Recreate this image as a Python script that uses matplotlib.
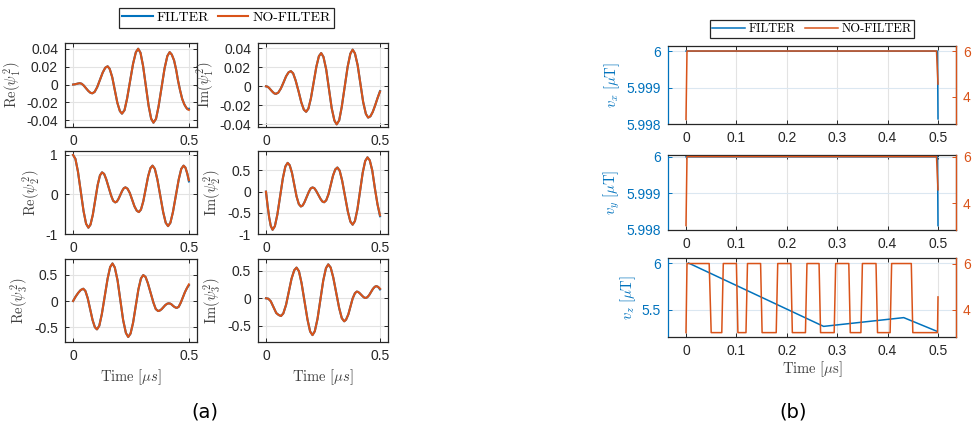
import matplotlib
matplotlib.use("Agg")
import matplotlib.pyplot as plt

plt.rcParams['font.family'] = ['Liberation Sans', 'DejaVu Sans']
plt.rcParams['mathtext.fontset'] = 'cm'
plt.rcParams['axes.unicode_minus'] = False

BLUE = '#0072BD'
ORANGE = '#D95319'
DARK = '#262626'

# ---- (a): time [us] / value pairs ----
re1_t = [0, 0.010, 0.020, 0.029, 0.037, 0.046, 0.056, 0.066, 0.075, 0.083, 0.093, 0.104,
         0.116, 0.128, 0.139, 0.149, 0.158, 0.169, 0.180, 0.191, 0.202, 0.211, 0.222, 0.233,
         0.246, 0.259, 0.271, 0.281, 0.291, 0.302, 0.314, 0.326, 0.337, 0.347, 0.358, 0.369,
         0.382, 0.395, 0.407, 0.417, 0.426, 0.436, 0.445, 0.453, 0.462, 0.471, 0.480, 0.488,
         0.494, 0.5]
re1_v = [0, 0.0004, 0.0011, 0.0015, 0.0009, -0.0011, -0.0042, -0.0072, -0.0092, -0.0098, -0.0082, -0.0029,
         0.0053, 0.0135, 0.0188, 0.0204, 0.0175, 0.0082, -0.0061, -0.0203, -0.0296, -0.0325, -0.0286, -0.0158,
         0.0038, 0.0233, 0.0361, 0.040, 0.0355, 0.021, -0.0013, -0.0236, -0.0381, -0.0426, -0.0383, -0.0245,
         -0.0032, 0.0181, 0.0319, 0.0362, 0.0335, 0.027, 0.0165, 0.0045, -0.0065, -0.016, -0.0220, -0.0256,
         -0.0275, -0.0283]

im1_t = [0, 0.007, 0.014, 0.022, 0.030, 0.037, 0.044, 0.054, 0.065, 0.077, 0.088, 0.099,
         0.109, 0.119, 0.130, 0.143, 0.155, 0.166, 0.176, 0.186, 0.197, 0.209, 0.221, 0.232,
         0.242, 0.252, 0.264, 0.276, 0.288, 0.300, 0.310, 0.321, 0.332, 0.345, 0.358, 0.370,
         0.380, 0.390, 0.402, 0.414, 0.426, 0.438, 0.448, 0.458, 0.468, 0.478, 0.489, 0.5]
im1_v = [0, -0.0004, -0.0018, -0.0040, -0.0061, -0.0075, -0.0079, -0.0066, -0.0024, 0.0041, 0.0105, 0.0147,
         0.016, 0.0137, 0.0062, -0.0054, -0.017, -0.0245, -0.0268, -0.0235, -0.0126, 0.0041, 0.0208, 0.0317,
         0.035, 0.031, 0.0178, -0.0025, -0.0228, -0.036, -0.040, -0.0358, -0.0219, -0.0007, 0.0205, 0.0344,
         0.0386, 0.0347, 0.0222, 0.0028, -0.0164, -0.029, -0.0329, -0.0315, -0.027, -0.0205, -0.0125, -0.0054]

re2_t = [0, 0.010, 0.021, 0.033, 0.045, 0.056, 0.066, 0.075, 0.085, 0.0955, 0.106, 0.116,
         0.125, 0.134, 0.143, 0.1535, 0.164, 0.173, 0.182, 0.189, 0.196, 0.204, 0.212, 0.219,
         0.226, 0.235, 0.245, 0.255, 0.265, 0.275, 0.284, 0.293, 0.303, 0.3135, 0.324, 0.334,
         0.343, 0.353, 0.364, 0.3765, 0.389, 0.400, 0.410, 0.420, 0.431, 0.4435, 0.456, 0.467,
         0.477, 0.485, 0.493, 0.5]
re2_v = [1.0, 0.90, 0.577, 0.08, -0.417, -0.74, -0.84, -0.764, -0.518, -0.14, 0.238, 0.484,
         0.56, 0.519, 0.385, 0.18, -0.025, -0.159, -0.20, -0.179, -0.113, -0.01, 0.093, 0.159,
         0.18, 0.146, 0.036, -0.1325, -0.301, -0.411, -0.445, -0.382, -0.175, 0.1425, 0.46, 0.667,
         0.73, 0.647, 0.378, -0.035, -0.448, -0.717, -0.80, -0.717, -0.448, -0.035, 0.378, 0.647,
         0.73, 0.68, 0.53, 0.36]

im2_t = [0, 0.007, 0.014, 0.021, 0.029, 0.039, 0.050, 0.062, 0.074, 0.085, 0.095, 0.104,
         0.114, 0.124, 0.134, 0.144, 0.153, 0.161, 0.169, 0.1785, 0.188, 0.196, 0.204, 0.212,
         0.220, 0.2295, 0.239, 0.247, 0.255, 0.264, 0.274, 0.284, 0.294, 0.304, 0.313, 0.323,
         0.334, 0.3465, 0.359, 0.370, 0.380, 0.390, 0.401, 0.4125, 0.424, 0.435, 0.445, 0.455,
         0.466, 0.478, 0.489, 0.5]
im2_v = [0, -0.33, -0.61, -0.81, -0.90, -0.815, -0.537, -0.11, 0.317, 0.595, 0.68, 0.624,
         0.443, 0.165, -0.113, -0.294, -0.35, -0.326, -0.247, -0.125, -0.003, 0.076, 0.10, 0.081,
         0.0195, -0.075, -0.17, -0.231, -0.25, -0.206, -0.061, 0.16, 0.381, 0.526, 0.57, 0.497,
         0.2595, -0.105, -0.47, -0.707, -0.78, -0.694, -0.414, 0.015, 0.444, 0.724, 0.81, 0.74,
         0.50, 0.06, -0.30, -0.56]

re3_t = [0, 0.011, 0.022, 0.033, 0.044, 0.053, 0.063, 0.0735, 0.084, 0.094, 0.103, 0.113,
         0.124, 0.1365, 0.149, 0.160, 0.170, 0.180, 0.192, 0.204, 0.216, 0.228, 0.238, 0.248,
         0.259, 0.2705, 0.282, 0.293, 0.303, 0.313, 0.323, 0.335, 0.347, 0.357, 0.367, 0.374,
         0.382, 0.390, 0.398, 0.406, 0.413, 0.419, 0.425, 0.4305, 0.437, 0.443, 0.448, 0.456,
         0.465, 0.474, 0.483, 0.492, 0.5]
re3_v = [0, 0.085, 0.155, 0.21, 0.234, 0.192, 0.056, -0.153, -0.362, -0.498, -0.54, -0.472,
         -0.251, 0.0875, 0.426, 0.647, 0.715, 0.639, 0.393, 0.0155, -0.362, -0.608, -0.684, -0.62,
         -0.413, -0.095, 0.223, 0.43, 0.494, 0.457, 0.337, 0.152, -0.033, -0.153, -0.19, -0.182,
         -0.156, -0.117, -0.078, -0.052, -0.044, -0.049, -0.064, -0.087, -0.11, -0.125, -0.13, -0.11,
         -0.03, 0.07, 0.17, 0.25, 0.316]

im3_t = [0, 0.010, 0.021, 0.033, 0.045, 0.056, 0.066, 0.076, 0.088, 0.100, 0.112, 0.124,
         0.134, 0.1445, 0.156, 0.169, 0.182, 0.1935, 0.204, 0.214, 0.226, 0.2385, 0.251, 0.263,
         0.273, 0.2835, 0.295, 0.308, 0.321, 0.3325, 0.343, 0.351, 0.361, 0.3705, 0.380, 0.390,
         0.398, 0.404, 0.410, 0.4175, 0.425, 0.431, 0.437, 0.444, 0.452, 0.4605, 0.469, 0.477,
         0.484, 0.492, 0.5]
im3_v = [0, -0.007, -0.054, -0.16, -0.266, -0.303, -0.32, -0.273, -0.119, 0.1175, 0.354, 0.508,
         0.555, 0.489, 0.274, -0.055, -0.384, -0.599, -0.665, -0.596, -0.371, -0.026, 0.319, 0.544,
         0.613, 0.557, 0.376, 0.0985, -0.179, -0.36, -0.416, -0.387, -0.292, -0.1475, -0.003, 0.092,
         0.121, 0.115, 0.095, 0.0635, 0.032, 0.012, 0.006, 0.018, 0.055, 0.113, 0.171, 0.208,
         0.22, 0.205, 0.173]

# FILTER curves sit under NO-FILTER; only the last sample differs visibly
re1_f = re1_v[:-1] + [-0.0270]
im1_f = im1_v[:-1] + [-0.0050]
re2_f = re2_v[:-1] + [0.33]
im2_f = im2_v[:-1] + [-0.58]
re3_f = re3_v[:-1] + [0.30]
im3_f = im3_v[:-1] + [0.160]

a_labels = [r'$\mathrm{Re}(\psi_1^2)$', r'$\mathrm{Im}(\psi_1^2)$',
            r'$\mathrm{Re}(\psi_2^2)$', r'$\mathrm{Im}(\psi_2^2)$',
            r'$\mathrm{Re}(\psi_3^2)$', r'$\mathrm{Im}(\psi_3^2)$']
a_yticks = [[-0.04, -0.02, 0, 0.02, 0.04], [-0.04, -0.02, 0, 0.02, 0.04],
            [-1, 0, 1], [-1, -0.5, 0, 0.5],
            [-0.5, 0, 0.5], [-0.5, 0, 0.5]]
a_yticklabels = [['-0.04', '-0.02', '0', '0.02', '0.04'], ['-0.04', '-0.02', '0', '0.02', '0.04'],
                 ['-1', '0', '1'], ['-1', '-0.5', '0', '0.5'],
                 ['-0.5', '0', '0.5'], ['-0.5', '0', '0.5']]
a_ylims = [(-0.0474, 0.0464), (-0.0428, 0.0456), (-1.0, 1.1), (-1.0, 0.96),
           (-0.78, 0.80), (-0.79, 0.71)]

# ---- (b) ----
vx_t_f = [0.0, 0.499, 0.5]
vx_f = [6.0, 6.0, 5.99814]
vx_t_n = [0.0, 0.002, 0.497, 0.5]
vx_n = [3.0, 6.0, 6.0, 4.55]

vy_t_f = [0.0, 0.499, 0.5]
vy_f = [6.0, 6.0, 5.99811]
vy_t_n = [0.0, 0.002, 0.497, 0.5]
vy_n = [3.03, 6.0, 6.0, 4.57]

vz_t_f = [0.005, 0.273, 0.432, 0.498]
vz_f = [6.0, 5.32, 5.414, 5.267]
vz_t_n = [0, 0.002, 0.046, 0.050, 0.071, 0.074, 0.100, 0.103, 0.119, 0.122, 0.148, 0.151,
          0.179, 0.182, 0.208, 0.211, 0.237, 0.240, 0.264, 0.267, 0.294, 0.297, 0.323, 0.326,
          0.347, 0.350, 0.377, 0.380, 0.405, 0.408, 0.447, 0.450, 0.499, 0.500]
vz_n = [3.0, 6.0, 6.0, 3.0, 3.0, 6.0, 6.0, 3.0, 3.0, 6.0, 6.0, 3.0,
        3.0, 6.0, 6.0, 3.0, 3.0, 6.0, 6.0, 3.0, 3.0, 6.0, 6.0, 3.0,
        3.0, 6.0, 6.0, 3.0, 3.0, 6.0, 6.0, 3.0, 3.0, 4.55]

b_labels = [r'$v_x\ [\mu\mathrm{T}]$', r'$v_y\ [\mu\mathrm{T}]$', r'$v_z\ [\mu\mathrm{T}]$']
b_xticks = [0, 0.1, 0.2, 0.3, 0.4, 0.5]
b_xticklabels = ['0', '0.1', '0.2', '0.3', '0.4', '0.5']

W, H = 976, 428
fig = plt.figure(figsize=(W / 100, H / 100), dpi=100)


def px_axes(x0, x1, y0, y1):
    return fig.add_axes([x0 / W, 1 - y1 / H, (x1 - x0) / W, (y1 - y0) / H])


def style(ax, color=DARK):
    for s in ax.spines.values():
        s.set_color(DARK)
        s.set_linewidth(0.9)
    ax.tick_params(direction='in', length=3, width=0.7, labelsize=10,
                   colors=DARK, top=True, right=True, pad=5)
    ax.grid(True, color='#e3e3e3', linewidth=0.8)
    ax.set_axisbelow(True)


# ----- panel (a) -----
a_cols = [(65, 197), (258, 388)]
a_rows = [(43, 127), (151, 234), (259, 342)]
a_data = [(re1_t, re1_f, re1_v), (im1_t, im1_f, im1_v),
          (re2_t, re2_f, re2_v), (im2_t, im2_f, im2_v),
          (re3_t, re3_f, re3_v), (im3_t, im3_f, im3_v)]

a_axes = []
for i, (t, f, n) in enumerate(a_data):
    r, c = divmod(i, 2)
    ax = px_axes(a_cols[c][0], a_cols[c][1], a_rows[r][0], a_rows[r][1])
    style(ax)
    ax.plot(t, f, color=BLUE, lw=1.5, label='FILTER', solid_joinstyle='round')
    ax.plot(t, n, color=ORANGE, lw=1.5, label='NO-FILTER', solid_joinstyle='round')
    ax.set_xlim(-0.035, 0.535)
    ax.set_ylim(*a_ylims[i])
    ax.set_xticks([0, 0.5])
    ax.set_xticklabels(['0', '0.5'])
    ax.set_yticks(a_yticks[i])
    ax.set_yticklabels(a_yticklabels[i])
    ax.set_ylabel(a_labels[i], fontsize=10.5, color='#404040', labelpad=2)
    if r == 2:
        ax.set_xlabel(r'$\mathrm{Time}\ [\mu s]$', fontsize=10.5, color='#404040', labelpad=3)
    a_axes.append(ax)

h, l = a_axes[0].get_legend_handles_labels()
leg = fig.legend(h, l, loc='center', bbox_to_anchor=(226.5 / W, 1 - 18 / H), ncol=2,
                 prop={'family': 'cmr10', 'size': 10}, handlelength=2.2, handletextpad=0.3,
                 columnspacing=0.6, borderpad=0.25, fancybox=False, framealpha=1,
                 edgecolor=DARK)
leg.get_frame().set_linewidth(0.9)

# ----- panel (b) -----
b_rows = [(46, 124), (155, 230), (258, 337)]
b_data = [(vx_t_f, vx_f, vx_t_n, vx_n), (vy_t_f, vy_f, vy_t_n, vy_n),
          (vz_t_f, vz_f, vz_t_n, vz_n)]
b_ylims = [(5.998, 6.00014), (5.99799, 6.00005), (5.206, 6.054)]
b_yticks = [[5.998, 5.999, 6], [5.998, 5.999, 6], [5.5, 6]]
b_yticklabels = [['5.998', '5.999', '6'], ['5.998', '5.999', '6'], ['5.5', '6']]
b_ylims2 = [(2.8, 6.22), (2.84, 6.07), (2.81, 6.24)]

b_axes = []
for i, (tf, f, tn, n) in enumerate(b_data):
    ax = px_axes(668, 956, b_rows[i][0], b_rows[i][1])
    for s in ax.spines.values():
        s.set_color(DARK)
        s.set_linewidth(0.9)
    ax.spines['left'].set_color(BLUE)
    ax.tick_params(direction='in', length=3, width=0.7, labelsize=10, colors=DARK,
                   top=True, right=False, pad=5)
    ax.tick_params(axis='y', colors=BLUE)
    ax.grid(True, axis='x', color='#e3e3e3', linewidth=0.8)
    ax.grid(True, axis='y', color='#dbe7f1', linewidth=0.8)
    ax.set_axisbelow(True)
    ax.plot(tf, f, color=BLUE, lw=1.1, label='FILTER')
    ax.set_xlim(-0.0357, 0.5357)
    ax.set_ylim(*b_ylims[i])
    ax.set_yticks(b_yticks[i])
    ax.set_yticklabels(b_yticklabels[i])
    ax.set_xticks(b_xticks)
    ax.set_xticklabels(b_xticklabels)
    ax.set_ylabel(b_labels[i], fontsize=10.5, color=BLUE, labelpad=3)

    ax2 = ax.twinx()
    ax2.plot(tn, n, color=ORANGE, lw=1.1, label='NO-FILTER')
    ax2.set_ylim(*b_ylims2[i])
    ax2.set_yticks([4, 6])
    ax2.set_yticklabels(['4', '6'])
    for s in ax2.spines.values():
        s.set_visible(False)
    ax2.spines['right'].set_visible(True)
    ax2.spines['right'].set_color(ORANGE)
    ax2.spines['right'].set_linewidth(0.9)
    ax2.tick_params(axis='y', direction='in', length=3, width=0.7, labelsize=10,
                    colors=ORANGE, pad=5)
    # the right-hand label runs off the page edge, as in the original
    ax2.set_ylabel(b_labels[i], fontsize=10.5, color=ORANGE, labelpad=4)
    if i == 2:
        ax.set_xlabel(r'$\mathrm{Time}\ [\mu\mathrm{s}]$', fontsize=10.5, color='#404040',
                      labelpad=1)
    b_axes.append((ax, ax2))

h1, l1 = b_axes[0][0].get_legend_handles_labels()
h2, l2 = b_axes[0][1].get_legend_handles_labels()
leg2 = fig.legend(h1 + h2, l1 + l2, loc='center', bbox_to_anchor=(812 / W, 1 - 29 / H), ncol=2,
                  prop={'family': 'cmr10', 'size': 9}, handlelength=2.6, handletextpad=0.3,
                  columnspacing=0.8, borderpad=0.2, fancybox=False, framealpha=1,
                  edgecolor=DARK)
leg2.get_frame().set_linewidth(0.9)

fig.text(205 / W, 1 - 412 / H, '(a)', ha='center', va='center', fontsize=14,
         family='DejaVu Sans')
fig.text(793 / W, 1 - 412 / H, '(b)', ha='center', va='center', fontsize=14,
         family='DejaVu Sans')

fig.savefig('out.png', dpi=100)
